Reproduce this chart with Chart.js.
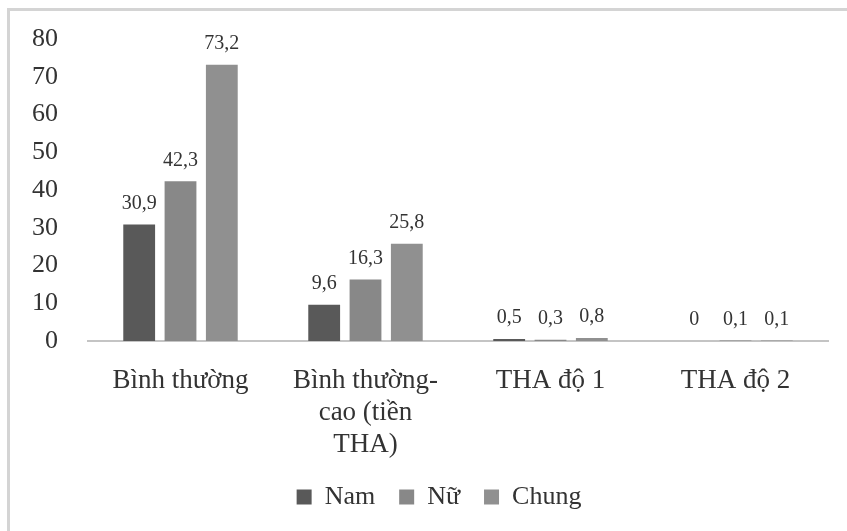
<!DOCTYPE html>
<html>
	<head>
		<meta charset="utf-8">
		<title>Huyết áp</title>
		<script src="https://cdn.jsdelivr.net/npm/chart.js"></script>
		<style>
			html, body { margin: 0; padding: 0; background: #fff; }
			#wrap { width: 847px; height: 531px; position: relative; }
		</style>
	</head>
	<body>
		<div id="wrap"><canvas id="bp" aria-label="Phân loại huyết áp" role="img"></canvas></div>
		<script type="text/javascript">
			const categories = ['Bình thường', ['Bình thường-', 'cao (tiền', 'THA)'], 'THA độ 1', 'THA độ 2'];
			const nam = [30.9, 9.6, 0.5, 0];
			const nu = [42.3, 16.3, 0.3, 0.1];
			const chung = [73.2, 25.8, 0.8, 0.1];
			const yMax = 80, yStep = 10;

			const serif = '"Liberation Serif", "Times New Roman", serif';

			// frame on top/left like the scanned figure, legend nudged right
			const frame = {
				id: 'frame',
				afterLayout(chart) {
					chart.legend.left += 9;
					chart.legend.right += 9;
				},
				beforeDraw(chart) {
					let ctx = chart.ctx;
					ctx.save();
					ctx.strokeStyle = '#d4d4d4';
					ctx.lineWidth = 3;
					ctx.beginPath();
					ctx.moveTo(8.5, chart.height);
					ctx.lineTo(8.5, 9.5);
					ctx.lineTo(chart.width, 9.5);
					ctx.stroke();
					ctx.restore();
				}
			};

			// value labels over the bars, decimal comma
			const valueLabels = {
				id: 'valueLabels',
				afterDatasetsDraw(chart) {
					let ctx = chart.ctx;
					ctx.save();
					ctx.font = '20px ' + serif;
					ctx.fillStyle = '#333';
					ctx.textAlign = 'center';
					ctx.textBaseline = 'bottom';
					chart.data.datasets.forEach((ds, i) => {
						chart.getDatasetMeta(i).data.forEach((bar, j) => {
							ctx.fillText(String(ds.data[j]).replace('.', ','), bar.x, bar.y - 11);
						});
					});
					ctx.restore();
				}
			};

			function draw() {
				new Chart(document.getElementById('bp'), {
					type: 'bar',
					data: {
						labels: categories,
						datasets: [
							{ label: 'Nam', data: nam, backgroundColor: '#595959' },
							{ label: 'Nữ', data: nu, backgroundColor: '#888888' },
							{ label: 'Chung', data: chung, backgroundColor: '#909090' }
						]
					},
					options: {
						responsive: true,
						maintainAspectRatio: false,
						animation: false,
						categoryPercentage: 0.67,
						barPercentage: 0.77,
						layout: { padding: { left: 32, right: 19, top: 0, bottom: 11 } },
						plugins: {
							legend: {
								position: 'bottom',
								labels: { boxWidth: 15, boxHeight: 15, padding: 24, color: '#333', font: { family: serif, size: 26 } }
							},
							tooltip: { enabled: false }
						},
						scales: {
							x: {
								afterFit(scale) { scale.height = 119; },
								grid: { display: false, drawTicks: false },
								border: { display: true, color: '#c4c4c4', width: 2 },
								ticks: { color: '#333', padding: 24, maxRotation: 0, autoSkip: false, font: { family: serif, size: 27, lineHeight: 1.19 } }
							},
							y: {
								min: 0,
								max: yMax,
								afterFit(scale) { scale.width = 56; },
								grid: { display: false, drawTicks: false },
								border: { display: false },
								ticks: { stepSize: yStep, autoSkip: false, color: '#333', padding: 30, font: { family: serif, size: 26, lineHeight: 0.7 } }
							}
						}
					},
					plugins: [frame, valueLabels]
				});
			}

			document.fonts.load('26px "Liberation Serif"').then(draw, draw);
		</script>
	</body>
</html>
